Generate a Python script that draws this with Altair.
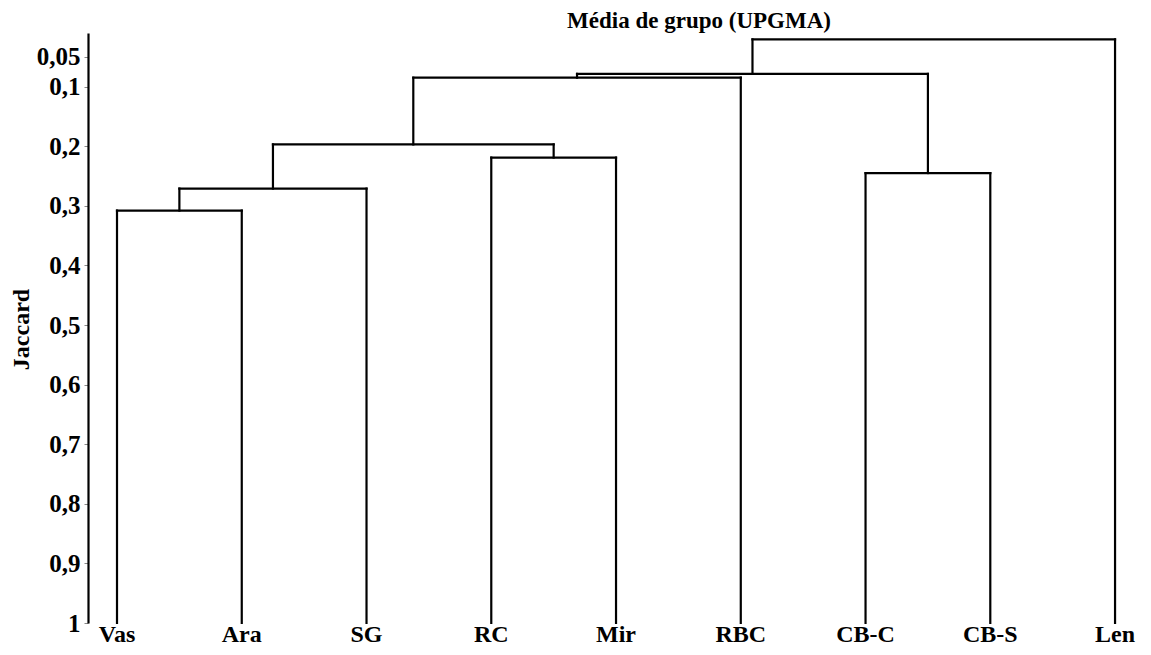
import altair as alt
import pandas as pd

# ---- data ----
leaves = ["Vas", "Ara", "SG", "RC", "Mir", "RBC", "CB-C", "CB-S", "Len"]
# each merge: (left node id, right node id, Jaccard height); leaves are ids 0..8, merges 9..16
merge_left = [0, 9, 3, 10, 12, 6, 13, 15]
merge_right = [1, 2, 4, 11, 5, 7, 14, 8]
merge_height = [0.308, 0.271, 0.219, 0.197, 0.085, 0.245, 0.0786, 0.0207]
tick_values = [0.05, 0.1, 0.2, 0.3, 0.4, 0.5, 0.6, 0.7, 0.8, 0.9, 1.0]
leaf_height = 1.0

# ---- build segments from the linkage ----
node_x = list(range(len(leaves)))
node_h = [leaf_height] * len(leaves)
segs = []
for l, r, h in zip(merge_left, merge_right, merge_height):
    xl, xr = node_x[l], node_x[r]
    segs.append({"x": xl, "x2": xl, "y": node_h[l], "y2": h})
    segs.append({"x": xr, "x2": xr, "y": node_h[r], "y2": h})
    segs.append({"x": xl, "x2": xr, "y": h, "y2": h})
    node_x.append((xl + xr) / 2)
    node_h.append(h)
seg_df = pd.DataFrame(segs)
leaf_df = pd.DataFrame({"x": list(range(len(leaves))), "y": [leaf_height] * len(leaves), "name": leaves})

FONT = "Liberation Serif"
xscale = alt.Scale(domain=[-0.2325, 8.2], nice=False, zero=False)
yscale = alt.Scale(domain=[0.01, 1.0], reverse=True, nice=False, zero=False)

lines = alt.Chart(seg_df).mark_rule(color="black", strokeWidth=2.2, strokeCap="square").encode(
    x=alt.X("x:Q", scale=xscale, axis=None),
    x2="x2:Q",
    y=alt.Y(
        "y:Q",
        scale=yscale,
        axis=alt.Axis(
            title="Jaccard",
            values=tick_values,
            labelExpr="replace('' + datum.value, '.', ',')",
            grid=False,
            domainColor="black",
            domainWidth=2.2,
            tickColor="#888888",
            tickSize=4,
            tickWidth=1,
            labelPadding=4,
            labelFont=FONT,
            labelFontSize=25,
            labelFontWeight="bold",
            labelColor="black",
            labelFlush=False,
            labelOverlap=False,
            titleFont=FONT,
            titleFontSize=24,
            titleFontWeight="bold",
            titleColor="black",
            titleAngle=270,
            titleX=-67,
            titleY=296,
            titleAlign="center",
            titleBaseline="middle",
        ),
    ),
    y2="y2:Q",
)

labels = alt.Chart(leaf_df).mark_text(
    font=FONT, fontSize=24, fontWeight="bold", color="black", baseline="alphabetic", dy=19
).encode(
    x=alt.X("x:Q", scale=xscale, axis=None),
    y=alt.Y("y:Q", scale=yscale),
    text="name:N",
)

chart = (
    alt.layer(lines, labels)
    .properties(
        width=1052,
        height=590,
        autosize=alt.AutoSizeParams(type="none"),
        padding={"left": 80, "top": 25, "right": 3, "bottom": 23},
        title=alt.TitleParams(
            "Média de grupo (UPGMA)",
            font=FONT,
            fontSize=23,
            fontWeight="bold",
            color="black",
            anchor="middle",
            dx=85,
            offset=0,
        ),
        background="white",
    )
    .configure_view(stroke=None)
)

chart.save("out.html", embed_options={"renderer": "svg", "actions": False})
